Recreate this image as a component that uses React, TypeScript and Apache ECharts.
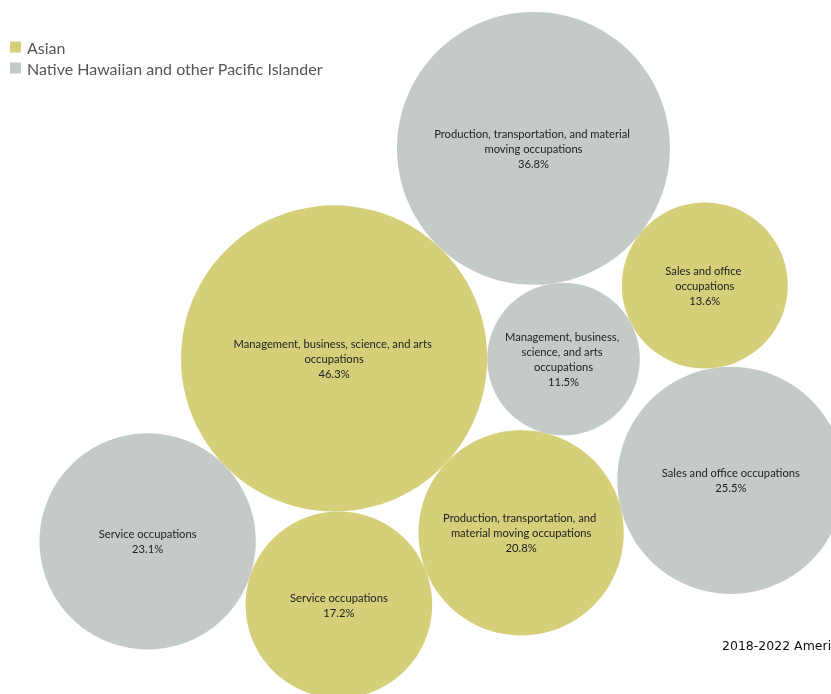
import React, { useEffect, useRef } from "react";
import * as echarts from "echarts";

// ---- data ----
const groups = ["Asian", "Native Hawaiian and other Pacific Islander"];
const occupations = [
  "Management, business, science, and arts occupations",
  "Production, transportation, and material moving occupations",
  "Sales and office occupations",
  "Service occupations",
];
const asianValues = [46.3, 20.8, 13.6, 17.2];
const nhpiValues = [11.5, 36.8, 25.5, 23.1];
const groupColors = ["#D5CF7A", "#C4CBC7"];
const footerText = "2018-2022 American Community Survey 5-year Estimates";

// ---- packing layout (circles placed tangent to earlier ones) ----
const W = 823;
const H = 686;
const RADIUS_SCALE = 22.5; // px per sqrt(percent)
const PACK_CENTER = [434, 347];
const LABEL_WIDTH_FACTOR = 1.62;
// [group, occupation] placement order; each subsequent is tangent to two earlier bubbles
const placement: { g: number; o: number; a?: number; b?: number; side?: number; angle?: number }[] = [
  { g: 0, o: 0 },
  { g: 1, o: 1, a: 0, angle: -46.5 },
  { g: 1, o: 0, a: 0, b: 1, side: 1 },
  { g: 0, o: 2, a: 1, b: 2, side: -1 },
  { g: 0, o: 1, a: 0, b: 2, side: 1 },
  { g: 1, o: 2, a: 3, b: 4, side: -1 },
  { g: 0, o: 3, a: 0, b: 4, side: 1 },
  { g: 1, o: 3, a: 0, b: 6, side: 1 },
];

const valueOf = (g: number, o: number) => (g === 0 ? asianValues[o] : nhpiValues[o]);
const radiusOf = (v: number) => RADIUS_SCALE * Math.sqrt(v);

function layout() {
  const pts: { x: number; y: number; r: number; g: number; o: number }[] = [];
  placement.forEach((p, i) => {
    const r = radiusOf(valueOf(p.g, p.o));
    if (i === 0) {
      pts.push({ x: 0, y: 0, r, g: p.g, o: p.o });
    } else if (p.angle !== undefined) {
      const A = pts[p.a!];
      const d = A.r + r;
      const t = (p.angle * Math.PI) / 180;
      pts.push({ x: A.x + d * Math.cos(t), y: A.y + d * Math.sin(t), r, g: p.g, o: p.o });
    } else {
      const A = pts[p.a!];
      const B = pts[p.b!];
      const da = A.r + r;
      const db = B.r + r;
      const dx = B.x - A.x;
      const dy = B.y - A.y;
      const d = Math.hypot(dx, dy);
      const ux = dx / d;
      const uy = dy / d;
      const x = (da * da - db * db + d * d) / (2 * d);
      const h = Math.sqrt(Math.max(0, da * da - x * x));
      const s = p.side!;
      pts.push({
        x: A.x + x * ux + s * h * -uy,
        y: A.y + x * uy + s * h * ux,
        r,
        g: p.g,
        o: p.o,
      });
    }
  });
  let minX = Infinity, maxX = -Infinity, minY = Infinity, maxY = -Infinity;
  pts.forEach((c) => {
    minX = Math.min(minX, c.x - c.r);
    maxX = Math.max(maxX, c.x + c.r);
    minY = Math.min(minY, c.y - c.r);
    maxY = Math.max(maxY, c.y + c.r);
  });
  const ox = PACK_CENTER[0] - (minX + maxX) / 2;
  const oy = PACK_CENTER[1] - (minY + maxY) / 2;
  return pts.map((c) => ({ ...c, x: c.x + ox, y: c.y + oy }));
}

export default function App() {
  const ref = useRef<HTMLDivElement>(null);
  useEffect(() => {
    if (!ref.current) return;
    const chart = echarts.init(ref.current, undefined, { renderer: "svg" });
    const pts = layout();
    const series = groups.map((gName, g) => ({
      name: gName,
      type: "scatter",
      symbol: "circle",
      symbolSize: (val: number[]) => 2 * radiusOf(val[2]),
      itemStyle: { color: groupColors[g], opacity: 1 },
      emphasis: { disabled: true },
      label: {
        show: true,
        position: "inside",
        color: "#222",
        fontFamily: "Lato",
        fontSize: 11.2,
        lineHeight: 15,
        overflow: "break",
        formatter: (p: any) => `${p.name}\n${p.value[2].toFixed(1)}%`,
      },
      data: pts
        .filter((c) => c.g === g)
        .map((c) => ({
          name: occupations[c.o],
          value: [c.x, c.y, valueOf(c.g, c.o)],
          label: { width: LABEL_WIDTH_FACTOR * c.r },
        })),
    }));
    chart.setOption({
      animation: false,
      grid: { left: 0, right: 0, top: 0, bottom: 0 },
      xAxis: { type: "value", min: 0, max: W, show: false },
      yAxis: { type: "value", min: 0, max: H, inverse: true, show: false },
      legend: {
        data: groups,
        orient: "vertical",
        left: 2,
        top: 31,
        padding: 0,
        icon: "rect",
        itemWidth: 11,
        itemHeight: 11,
        itemGap: 5,
        selectedMode: false,
        textStyle: { fontFamily: "Lato", fontSize: 16, color: "#555", padding: [0, 0, 0, 1] },
      },
      graphic: [
        {
          type: "text",
          left: 714,
          top: 631,
          style: { text: footerText, fontFamily: "DejaVu Sans", fontSize: 12.5, fill: "#111" },
        },
      ],
      series,
    });
    return () => chart.dispose();
  }, []);
  return (
    <div
      ref={ref}
      style={{ position: "fixed", left: 8, top: 8, width: W, height: H }}
    />
  );
}
